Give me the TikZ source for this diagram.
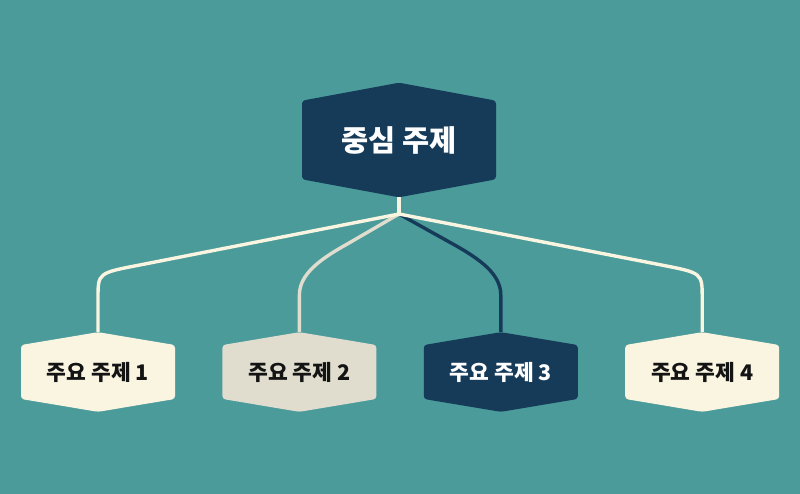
\documentclass[tikz,border=0pt]{standalone}
\usepackage{fontspec}
\newfontfamily\kofont{Noto Sans CJK KR}
\usepackage{tikz}
\usetikzlibrary{shapes, positioning, calc}
\definecolor{sea}{RGB}{75,155,155}
\definecolor{navy}{RGB}{21,59,89}
\definecolor{cream}{RGB}{250,245,225}
\definecolor{greige}{RGB}{224,221,207}
\definecolor{ink}{RGB}{20,20,20}
\tikzstyle{topic} = [shape = signal, signal to = north and south,
  rounded corners = 3, text centered, inner sep = 0]
\tikzstyle{main} = [
  topic, fill = navy, text = white,
  minimum width = 194, minimum height = 100, signal pointer angle = 159,
  font = \kofont\bfseries\fontsize{29.5}{34}\selectfont
]
\tikzstyle{sub} = [
  topic, fill = cream, text = ink,
  minimum width = 154, minimum height = 71, signal pointer angle = 161,
  font = \kofont\bfseries\fontsize{21.5}{26}\selectfont
]
\tikzstyle{link} = [line width = 3.4, color = cream]

\begin{document}
\begin{tikzpicture}[x = 1pt, y = -1pt, node distance = 47]
      \fill [sea] (0, 0) rectangle (800, 494);
      \useasboundingbox (0, 0) rectangle (800, 494);
      % centre
      \node [main] (main) at (399, 140) {중심 주제};
      \coordinate (hub) at (399, 214);
      % topics
      \node [sub] (sub-1) at (98, 372) {주요 주제 1};
      \node [sub, fill = greige, right = of sub-1] (sub-2) {주요 주제 2};
      \node [sub, fill = navy, text = white, right = of sub-2] (sub-3) {주요 주제 3};
      \node [sub, right = of sub-3] (sub-4) {주요 주제 4};

      \draw [link, color = greige] (hub) -- ($(sub-2.north) + (48, -88)$)
      .. controls ($(sub-2.north) + (21, -73)$) and ($(sub-2.north) + (0, -58)$)
      .. ($(sub-2.north) + (0, -37)$) -- (sub-2.north);
      \draw [link, color = navy] (hub) -- ($(sub-3.north) + (-48, -88)$)
      .. controls ($(sub-3.north) + (-21, -73)$) and ($(sub-3.north) + (0, -58)$)
      .. ($(sub-3.north) + (0, -37)$) -- (sub-3.north);
      \draw [link] (hub) -- ($(sub-1.north) + (42, -67)$)
      .. controls ($(sub-1.north) + (0, -59)$) .. ($(sub-1.north) + (0, -34)$)
      -- (sub-1.north);
      \draw [link] (hub) -- ($(sub-4.north) + (-41, -67)$)
      .. controls ($(sub-4.north) + (0, -59)$) .. ($(sub-4.north) + (0, -34)$)
      -- (sub-4.north);
      \draw [link] (main.south) -- (hub);
    \end{tikzpicture}
\end{document}
